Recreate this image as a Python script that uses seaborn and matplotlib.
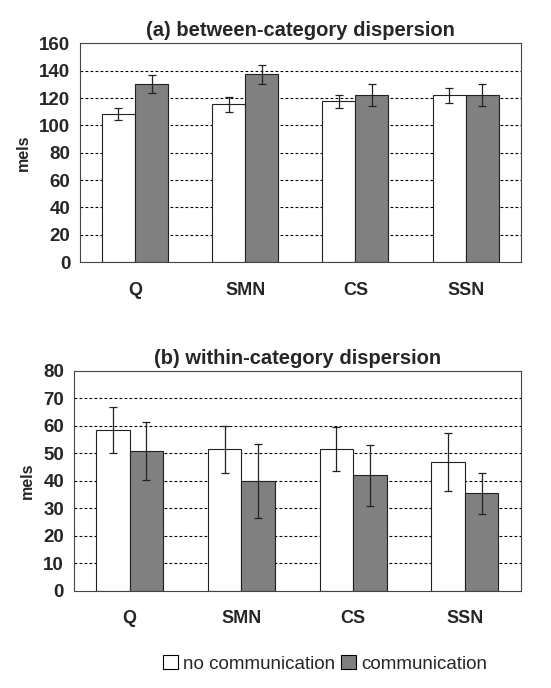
import numpy as np
import pandas as pd
import matplotlib.pyplot as plt
import seaborn as sns
from matplotlib.patches import Patch

categories = ["Q", "SMN", "CS", "SSN"]
groups = ["no communication", "communication"]

between_no = [108.5, 115.5, 117.5, 122]
between_comm = [130.5, 137.5, 122, 122]
between_no_err = [4.5, 5.5, 5, 5.5]
between_comm_err = [6.5, 7, 8, 8]

within_no = [58.5, 51.5, 51.5, 47]
within_comm = [51, 40, 42, 35.5]
within_no_err = [8.5, 8.5, 8, 10.5]
within_comm_err = [10.5, 13.5, 11, 7.5]

sns.set_style("white")
plt.rcParams["font.family"] = ["Liberation Sans", "DejaVu Sans"]

palette = {"no communication": "white", "communication": "#808080"}


def panel(ax, no, comm, no_err, comm_err, title, ymax, step):
    df = pd.DataFrame({
        "cat": categories * 2,
        "group": [groups[0]] * 4 + [groups[1]] * 4,
        "val": no + comm,
        "err": no_err + comm_err,
    })
    sns.barplot(data=df, x="cat", y="val", hue="group", palette=palette,
                order=categories, hue_order=groups, width=0.6,
                edgecolor="#222222", linewidth=0.8, legend=False, ax=ax, zorder=2)
    # error bars at bar centres
    for cont, g in zip(ax.containers, groups):
        sub = df[df["group"] == g].set_index("cat").loc[categories]
        xs = [p.get_x() + p.get_width() / 2 for p in cont.patches]
        ax.errorbar(xs, sub["val"], yerr=sub["err"], fmt="none", zorder=3,
                    ecolor="#222222", elinewidth=0.9, capsize=3, capthick=0.9)
    ax.set_xlim(-0.5, 3.5)
    ax.set_ylim(0, ymax)
    ax.set_yticks(np.arange(0, ymax + 1, step))
    for y in np.arange(step, ymax, step):
        ax.axhline(y, color="black", linestyle=(0, (2.5, 2)), linewidth=0.8, zorder=0)
    ax.set_xticks([0, 1, 2, 3])
    ax.set_xticklabels(categories, fontsize=13, fontweight="bold")
    ax.set_xticks([-0.5, 0.5, 1.5, 2.5, 3.5], minor=True)
    ax.tick_params(axis="x", which="major", length=0, pad=14)
    ax.tick_params(axis="x", which="minor", length=5, width=0.8, direction="out")
    ax.tick_params(axis="y", length=5, width=0.8, direction="out", labelsize=13.5, pad=2)
    for lab in ax.get_yticklabels():
        lab.set_fontweight("bold")
    ax.set_xlabel("")
    ax.set_ylabel("mels", fontsize=11.5, fontweight="bold", labelpad=6)
    ax.set_title(title, fontsize=14.5, fontweight="bold", pad=5)
    for s in ax.spines.values():
        s.set_color("#444444")
        s.set_linewidth(0.8)


fig = plt.figure(figsize=(5.51, 6.88), dpi=100)
ax1 = fig.add_axes([0.145, 0.619, 0.80, 0.318])
ax2 = fig.add_axes([0.134, 0.141, 0.811, 0.32])

panel(ax1, between_no, between_comm, between_no_err, between_comm_err,
      "(a) between-category dispersion", 160, 20)
panel(ax2, within_no, within_comm, within_no_err, within_comm_err,
      "(b) within-category dispersion", 80, 10)

handles = [Patch(facecolor=palette[g], edgecolor="black", linewidth=0.8, label=g) for g in groups]
fig.legend(handles=handles, loc="center", bbox_to_anchor=(0.59, 0.035), ncol=2,
           frameon=False, fontsize=13.5, handlelength=0.8, handleheight=0.8,
           handletextpad=0.3, columnspacing=0.3)

fig.savefig("out.png", dpi=100)
